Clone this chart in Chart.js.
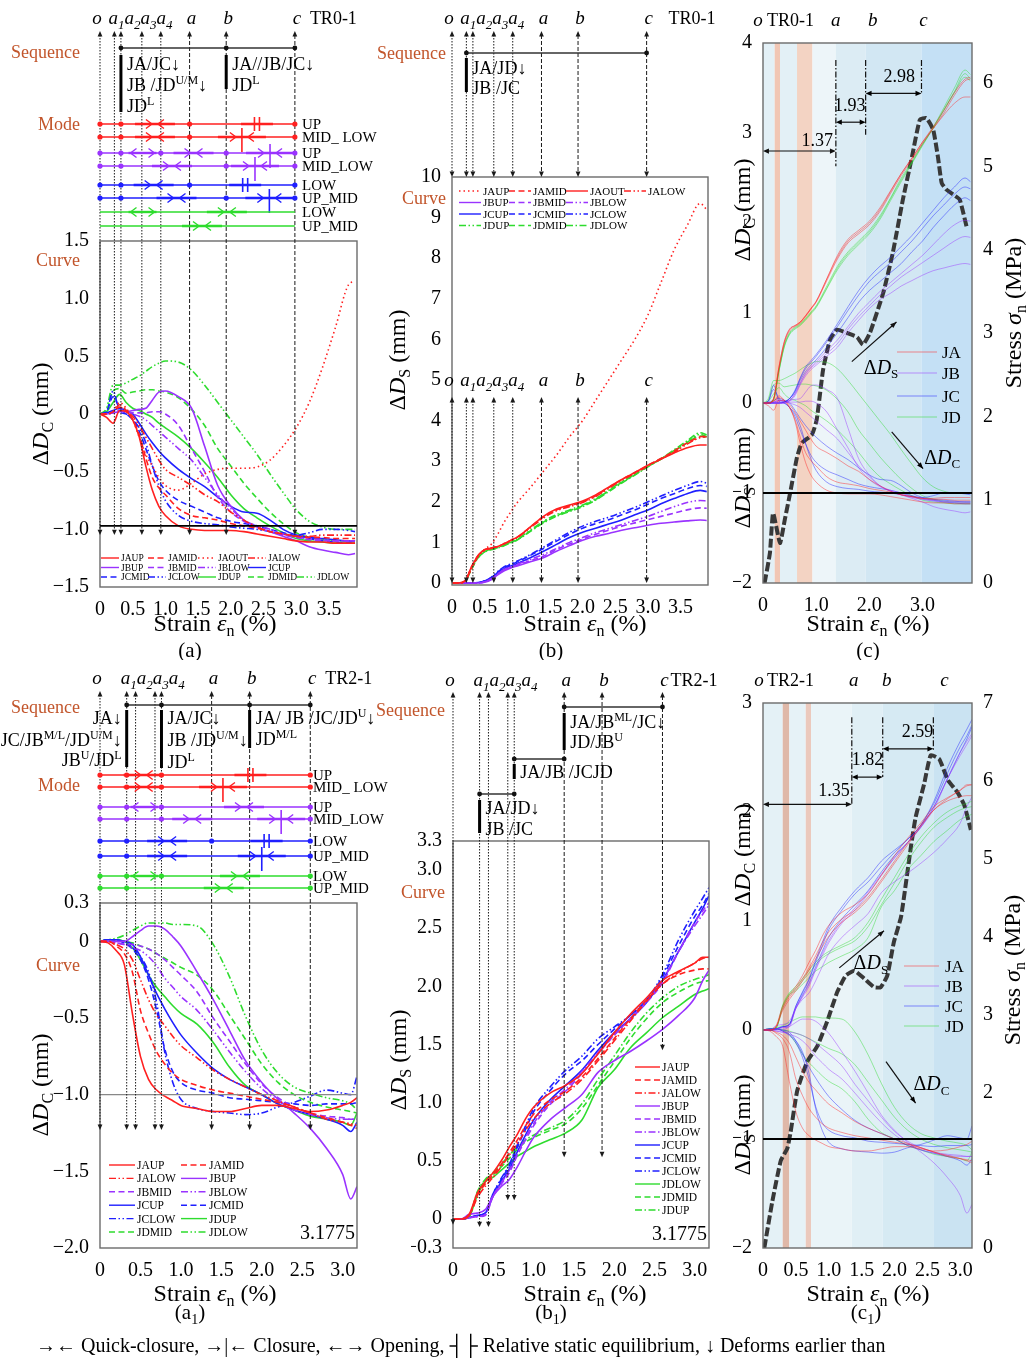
<!DOCTYPE html>
<html>
<head>
<meta charset="utf-8">
<title>TR0-1 / TR2-1 joint deformation</title>
<script src="https://cdn.jsdelivr.net/npm/chart.js@4.4.1/dist/chart.umd.min.js"></script>
<style>
  body { margin: 0; background: #fff; }
  #page { position: relative; width: 1032px; height: 1360px; overflow: hidden; background: #fff; }
  #page canvas { position: absolute; }
  #foot { position: absolute; left: 36px; top: 1333px; font: 20px 'Liberation Serif', serif; line-height: 24px; white-space: nowrap; color: #000; }
</style>
</head>
<body>
<div id="page">
  <canvas id="pa" width="400" height="660" style="left:0;top:0"></canvas>
  <canvas id="pb" width="360" height="660" style="left:370px;top:0"></canvas>
  <canvas id="pc" width="302" height="660" style="left:730px;top:0"></canvas>
  <canvas id="pa1" width="400" height="680" style="left:0;top:660px"></canvas>
  <canvas id="pb1" width="360" height="680" style="left:370px;top:660px"></canvas>
  <canvas id="pc1" width="302" height="680" style="left:730px;top:660px"></canvas>
  <div id="foot">→← Quick-closure, →|← Closure, ←→ Opening, ┤├ Relative static equilibrium, ↓ Deforms earlier than</div>
</div>
<script>
const SERIF = "'Liberation Serif','Times New Roman',serif";
Chart.defaults.font.family = SERIF;
const RED = '#ff2020', PUR = '#9a33ff', BLU = '#1f1fff', GRN = '#2edc2e', ORG = '#c2552b';
const DASH = {s: [], m: [6, 3.5], o: [1.5, 3], dd: [7, 2.5, 1.5, 2.5, 1.5, 2.5], dt: [7, 2.5, 1.5, 2.5]};

// ---------- TR0-1 : strain grid and joint curves ----------
const xs0 = [0, 0.1, 0.2, 0.3, 0.4, 0.5, 0.6, 0.7, 0.8, 0.9, 1.0, 1.2, 1.4, 1.6, 1.8, 2.0, 2.2, 2.4, 2.6, 2.8, 3.0, 3.2, 3.4, 3.6, 3.8, 3.9];
// closure deformation dDc (mm)
const dc0_JAUP  = [0, -0.03, -0.08, 0.03, 0.02, -0.05, -0.2, -0.45, -0.66, -0.8, -0.88, -0.97, -1.0, -1.01, -1.01, -1.01, -1.02, -1.04, -1.06, -1.08, -1.1, -1.11, -1.11, -1.12, -1.12, -1.12];
const dc0_JAMID = [0, 0, 0.02, 0.08, 0.03, -0.05, -0.18, -0.38, -0.55, -0.64, -0.7, -0.82, -0.88, -0.9, -0.92, -0.95, -0.97, -0.99, -1.02, -1.04, -1.06, -1.07, -1.07, -1.08, -1.08, -1.08];
const dc0_JAOUT = [0, 0, 0.02, 0.1, 0.05, -0.05, -0.2, -0.35, -0.45, -0.55, -0.62, -0.66, -0.6, -0.52, -0.48, -0.47, -0.47, -0.46, -0.4, -0.28, -0.12, 0.1, 0.4, 0.75, 1.12, 1.15];
const dc0_JALOW = [0, 0, 0.02, 0.06, 0.03, -0.02, -0.1, -0.2, -0.3, -0.4, -0.48, -0.55, -0.62, -0.7, -0.76, -0.85, -0.92, -0.98, -1.02, -1.04, -1.06, -1.06, -1.05, -1.05, -1.05, -1.05];
const dc0_JBUP  = [0, 0, 0.01, 0.02, 0.02, 0.03, 0.04, 0.05, 0.12, 0.19, 0.2, 0.15, 0.05, -0.28, -0.62, -0.8, -0.92, -0.98, -1.02, -1.06, -1.1, -1.15, -1.18, -1.2, -1.22, -1.21];
const dc0_JBMID = [0, 0, 0.01, 0.03, 0.02, 0.01, 0.01, 0.01, 0.02, 0.02, 0.0, -0.1, -0.3, -0.5, -0.72, -0.85, -0.93, -0.98, -1.02, -1.05, -1.07, -1.09, -1.1, -1.1, -1.1, -1.1];
const dc0_JBLOW = [0, 0, 0.01, 0.03, 0.02, 0, -0.02, -0.05, -0.1, -0.15, -0.2, -0.3, -0.4, -0.55, -0.7, -0.82, -0.92, -0.97, -1.0, -1.04, -1.07, -1.08, -1.09, -1.1, -1.1, -1.1];
const dc0_JCUP  = [0, 0.01, 0.03, 0.05, 0.03, 0, -0.08, -0.17, -0.25, -0.32, -0.38, -0.48, -0.56, -0.63, -0.72, -0.8, -0.85, -0.86, -0.92, -1.0, -1.05, -1.07, -1.08, -1.09, -1.1, -1.1];
const dc0_JCMID = [0, 0.02, 0.15, 0.05, 0.0, -0.05, -0.15, -0.3, -0.45, -0.58, -0.66, -0.75, -0.8, -0.85, -0.9, -0.93, -0.95, -0.97, -1.0, -1.03, -1.06, -1.08, -1.1, -1.11, -1.12, -1.12];
const dc0_JCLOW = [0, 0.02, 0.2, 0.02, 0.0, -0.05, -0.12, -0.25, -0.45, -0.62, -0.75, -0.88, -0.93, -0.95, -0.96, -0.98, -0.99, -1.0, -1.02, -1.04, -1.05, -1.03, -1.0, -1.0, -1.01, -1.02];
const dc0_JDUP  = [0, 0.02, 0.1, 0.17, 0.1, 0.05, 0.03, 0.0, -0.03, -0.08, -0.12, -0.2, -0.3, -0.42, -0.55, -0.7, -0.82, -0.9, -0.97, -1.03, -1.08, -1.1, -1.11, -1.12, -1.12, -1.12];
const dc0_JDMID = [0, 0.03, 0.2, 0.22, 0.18, 0.19, 0.2, 0.21, 0.21, 0.2, 0.19, 0.14, 0.04, -0.1, -0.3, -0.45, -0.6, -0.73, -0.85, -0.95, -1.03, -1.07, -1.09, -1.1, -1.1, -1.1];
const dc0_JDLOW = [0, 0.05, 0.25, 0.25, 0.27, 0.3, 0.33, 0.37, 0.41, 0.44, 0.46, 0.45, 0.38, 0.25, 0.1, -0.05, -0.2, -0.35, -0.52, -0.68, -0.83, -0.93, -0.98, -1.0, -1.0, -1.0];
// shear deformation dDs (mm)
const ds0_JAUP  = [0, 0, 0.05, 0.35, 0.65, 0.83, 0.95, 1.2, 1.5, 1.75, 1.98, 2.35, 2.75, 3.15, 3.6, 4.0, 4.5, 5.0, 5.5, 6.0, 6.6, 7.4, 8.2, 8.8, 9.35, 9.2];
const ds0_JAMID = [0, 0, 0.05, 0.4, 0.68, 0.82, 0.86, 0.9, 0.97, 1.05, 1.13, 1.38, 1.62, 1.8, 1.9, 2.0, 2.15, 2.35, 2.55, 2.72, 2.9, 3.07, 3.25, 3.45, 3.6, 3.62];
const ds0_JAOUT = [0, 0, 0.05, 0.4, 0.68, 0.82, 0.86, 0.9, 0.97, 1.05, 1.13, 1.38, 1.64, 1.82, 1.92, 2.02, 2.17, 2.36, 2.55, 2.72, 2.9, 3.05, 3.2, 3.33, 3.4, 3.4];
const ds0_JALOW = [0, 0, 0.05, 0.38, 0.66, 0.8, 0.85, 0.89, 0.96, 1.04, 1.12, 1.36, 1.6, 1.78, 1.88, 1.98, 2.13, 2.33, 2.53, 2.7, 2.88, 3.05, 3.22, 3.42, 3.58, 3.6];
const ds0_JBUP  = [0, 0, 0, 0, 0, 0.02, 0.08, 0.2, 0.3, 0.37, 0.42, 0.52, 0.62, 0.78, 0.92, 1.05, 1.15, 1.22, 1.3, 1.36, 1.42, 1.47, 1.5, 1.53, 1.55, 1.54];
const ds0_JBMID = [0, 0, 0, 0, 0, 0.03, 0.1, 0.22, 0.32, 0.39, 0.44, 0.55, 0.66, 0.82, 0.96, 1.08, 1.2, 1.3, 1.4, 1.48, 1.56, 1.64, 1.72, 1.8, 1.85, 1.84];
const ds0_JBLOW = [0, 0, 0, 0, 0, 0.03, 0.1, 0.22, 0.33, 0.4, 0.46, 0.58, 0.7, 0.85, 1.0, 1.12, 1.24, 1.34, 1.44, 1.54, 1.64, 1.76, 1.88, 1.98, 2.03, 2.02];
const ds0_JCUP  = [0, 0, 0, 0, 0.01, 0.05, 0.12, 0.25, 0.35, 0.42, 0.48, 0.62, 0.78, 0.95, 1.12, 1.25, 1.35, 1.45, 1.55, 1.68, 1.8, 1.95, 2.08, 2.2, 2.28, 2.25];
const ds0_JCMID = [0, 0, 0, 0, 0.01, 0.05, 0.13, 0.27, 0.38, 0.45, 0.52, 0.68, 0.85, 1.03, 1.2, 1.35, 1.46, 1.56, 1.68, 1.8, 1.94, 2.08, 2.2, 2.32, 2.4, 2.38];
const ds0_JCLOW = [0, 0, 0, 0, 0.01, 0.05, 0.14, 0.28, 0.4, 0.47, 0.54, 0.7, 0.88, 1.07, 1.25, 1.4, 1.52, 1.62, 1.74, 1.86, 2.0, 2.14, 2.28, 2.4, 2.5, 2.46];
const ds0_JDUP  = [0, 0, 0.04, 0.36, 0.64, 0.78, 0.84, 0.88, 0.94, 1.01, 1.08, 1.3, 1.52, 1.68, 1.8, 1.92, 2.08, 2.28, 2.5, 2.68, 2.88, 3.06, 3.26, 3.46, 3.66, 3.6];
const ds0_JDMID = [0, 0, 0.04, 0.36, 0.63, 0.77, 0.83, 0.87, 0.93, 1.0, 1.07, 1.28, 1.5, 1.66, 1.78, 1.9, 2.06, 2.27, 2.48, 2.67, 2.87, 3.05, 3.25, 3.45, 3.62, 3.58];
const ds0_JDLOW = [0, 0, 0.04, 0.35, 0.62, 0.76, 0.82, 0.86, 0.92, 0.99, 1.06, 1.27, 1.48, 1.64, 1.76, 1.88, 2.04, 2.25, 2.46, 2.66, 2.86, 3.06, 3.28, 3.5, 3.7, 3.65];
// normal stress (MPa)
const st0_x = [0.03, 0.13, 0.19, 0.32, 0.41, 0.51, 0.64, 0.73, 0.92, 1.01, 1.13, 1.26, 1.39, 1.58, 1.77, 1.88, 2.01, 2.26, 2.44, 2.63, 2.8, 2.95, 3.07, 3.2, 3.29, 3.36, 3.45, 3.6, 3.7, 3.83];
const st0_y = [0.0, 0.36, 0.84, 0.48, 0.76, 1.08, 1.51, 1.68, 1.78, 1.96, 2.56, 2.92, 3.04, 3.0, 2.95, 2.86, 3.0, 3.48, 3.96, 4.6, 5.11, 5.56, 5.58, 5.44, 5.11, 4.8, 4.72, 4.65, 4.6, 4.27];

// ---------- TR2-1 ----------
const xs2 = [0, 0.1, 0.2, 0.3, 0.4, 0.5, 0.6, 0.7, 0.8, 0.9, 1.0, 1.2, 1.4, 1.6, 1.8, 2.0, 2.2, 2.4, 2.6, 2.8, 3.0, 3.1, 3.1775];
const dc2_JAUP  = [0, -0.01, -0.06, -0.15, -0.47, -0.75, -0.9, -0.97, -1.01, -1.04, -1.07, -1.09, -1.11, -1.11, -1.09, -1.07, -1.07, -1.09, -1.11, -1.1, -1.07, -1.05, -1.02];
const dc2_JAMID = [0, 0, -0.03, -0.08, -0.2, -0.45, -0.6, -0.72, -0.8, -0.86, -0.9, -0.94, -0.97, -0.99, -1.01, -1.03, -1.05, -1.08, -1.12, -1.15, -1.18, -1.2, -1.22];
const dc2_JALOW = [0, 0, -0.02, -0.05, -0.12, -0.25, -0.38, -0.48, -0.55, -0.62, -0.68, -0.76, -0.84, -0.9, -0.95, -1.0, -1.04, -1.08, -1.12, -1.16, -1.18, -1.19, -1.2];
const dc2_JBUP  = [0, 0, 0, 0, 0.03, 0.07, 0.1, 0.1, 0.08, 0.03, -0.03, -0.2, -0.38, -0.58, -0.78, -0.92, -1.03, -1.12, -1.22, -1.35, -1.52, -1.68, -1.6];
const dc2_JBMID = [0, 0, -0.01, -0.02, -0.02, -0.03, -0.05, -0.08, -0.12, -0.17, -0.22, -0.33, -0.5, -0.65, -0.8, -0.93, -1.02, -1.08, -1.12, -1.14, -1.15, -1.16, -1.16];
const dc2_JBLOW = [0, 0, -0.01, -0.02, -0.04, -0.06, -0.1, -0.16, -0.24, -0.3, -0.36, -0.45, -0.58, -0.72, -0.85, -0.96, -1.04, -1.1, -1.13, -1.15, -1.16, -1.16, -1.16];
const dc2_JCUP  = [0, 0.01, 0.01, 0, -0.02, -0.1, -0.22, -0.34, -0.44, -0.53, -0.61, -0.73, -0.83, -0.9, -0.95, -1.0, -1.06, -1.1, -1.13, -1.16, -1.2, -1.24, -1.18];
const dc2_JCMID = [0, 0.01, 0.01, -0.01, -0.05, -0.12, -0.25, -0.45, -0.7, -0.85, -0.92, -0.97, -0.99, -1.02, -1.03, -1.04, -1.05, -1.06, -1.07, -1.06, -1.06, -1.06, -1.05];
const dc2_JCLOW = [0, 0.01, 0.01, -0.01, -0.04, -0.1, -0.2, -0.4, -0.72, -0.92, -1.03, -1.09, -1.11, -1.12, -1.13, -1.12, -1.08, -1.05, -1.01, -0.97, -0.99, -1.0, -0.88];
const dc2_JDUP  = [0, 0.01, 0.01, 0, -0.04, -0.12, -0.22, -0.3, -0.36, -0.42, -0.47, -0.54, -0.66, -0.82, -0.94, -1.0, -1.06, -1.1, -1.14, -1.16, -1.18, -1.2, -1.12];
const dc2_JDMID = [0, 0.01, 0.01, 0, -0.01, -0.03, -0.05, -0.08, -0.11, -0.14, -0.17, -0.22, -0.32, -0.48, -0.64, -0.8, -0.92, -1.0, -1.05, -1.08, -1.1, -1.11, -1.12];
const dc2_JDLOW = [0, 0.01, 0.02, 0.04, 0.07, 0.1, 0.12, 0.12, 0.12, 0.11, 0.11, 0.1, -0.02, -0.23, -0.49, -0.71, -0.86, -0.95, -0.99, -1.02, -1.04, -1.06, -1.1];
const ds2_JAUP  = [0, 0, 0.04, 0.22, 0.32, 0.4, 0.5, 0.62, 0.73, 0.86, 0.96, 1.08, 1.15, 1.25, 1.42, 1.6, 1.76, 1.9, 2.05, 2.13, 2.2, 2.25, 2.25];
const ds2_JAMID = [0, 0, 0.03, 0.2, 0.3, 0.38, 0.47, 0.57, 0.68, 0.8, 0.9, 1.02, 1.1, 1.22, 1.38, 1.55, 1.72, 1.88, 2.02, 2.1, 2.14, 2.15, 2.15];
const ds2_JALOW = [0, 0, 0.03, 0.18, 0.28, 0.36, 0.45, 0.55, 0.65, 0.76, 0.86, 0.99, 1.08, 1.2, 1.36, 1.53, 1.7, 1.87, 2.02, 2.12, 2.2, 2.24, 2.25];
const ds2_JBUP  = [0, 0, 0.04, 0.05, 0.08, 0.2, 0.28, 0.34, 0.45, 0.58, 0.7, 0.85, 0.96, 1.07, 1.26, 1.36, 1.44, 1.53, 1.63, 1.75, 1.9, 2.05, 2.14];
const ds2_JBMID = [0, 0, 0.01, 0.02, 0.03, 0.2, 0.3, 0.4, 0.55, 0.68, 0.8, 0.98, 1.1, 1.25, 1.42, 1.58, 1.72, 1.86, 2.03, 2.3, 2.55, 2.65, 2.72];
const ds2_JBLOW = [0, 0, 0.01, 0.02, 0.04, 0.2, 0.31, 0.42, 0.56, 0.7, 0.82, 1.0, 1.12, 1.27, 1.43, 1.58, 1.72, 1.87, 2.05, 2.3, 2.52, 2.62, 2.7];
const ds2_JCUP  = [0, 0, 0.01, 0.03, 0.05, 0.2, 0.32, 0.43, 0.58, 0.72, 0.85, 1.02, 1.15, 1.28, 1.45, 1.6, 1.72, 1.86, 2.05, 2.3, 2.55, 2.67, 2.78];
const ds2_JCMID = [0, 0, 0.01, 0.03, 0.05, 0.22, 0.34, 0.46, 0.62, 0.77, 0.92, 1.1, 1.25, 1.36, 1.5, 1.63, 1.75, 1.88, 2.08, 2.35, 2.6, 2.7, 2.8];
const ds2_JCLOW = [0, 0, 0.01, 0.03, 0.05, 0.22, 0.35, 0.47, 0.64, 0.8, 0.95, 1.13, 1.28, 1.4, 1.55, 1.65, 1.75, 1.88, 2.1, 2.4, 2.65, 2.76, 2.85];
const ds2_JDLOW = [0, 0, 0.02, 0.2, 0.32, 0.36, 0.42, 0.48, 0.54, 0.58, 0.62, 0.68, 0.74, 0.85, 1.13, 1.28, 1.47, 1.6, 1.73, 1.83, 1.93, 1.96, 1.98];
const ds2_JDMID = [0, 0, 0.02, 0.22, 0.33, 0.38, 0.45, 0.52, 0.6, 0.66, 0.7, 0.76, 0.82, 0.95, 1.15, 1.35, 1.55, 1.72, 1.86, 1.95, 2.02, 2.04, 2.05];
const ds2_JDUP  = [0, 0, 0.02, 0.23, 0.34, 0.4, 0.47, 0.55, 0.62, 0.68, 0.72, 0.78, 0.85, 0.99, 1.2, 1.4, 1.6, 1.77, 1.9, 2.0, 2.06, 2.08, 2.1];
const st2_x = [0.02, 0.14, 0.27, 0.37, 0.42, 0.52, 0.67, 0.83, 0.98, 1.13, 1.26, 1.39, 1.54, 1.69, 1.79, 1.89, 1.99, 2.1, 2.25, 2.32, 2.45, 2.55, 2.68, 2.81, 2.96, 3.06, 3.16];
const st2_y = [0.0, 0.59, 1.12, 1.28, 1.49, 2.02, 2.39, 2.6, 2.92, 3.29, 3.5, 3.56, 3.46, 3.35, 3.35, 3.5, 3.93, 4.26, 5.16, 5.53, 5.96, 6.33, 6.28, 6.01, 5.85, 5.69, 5.37];

// stage markers o, a1..a4, a, b, c (strain %)
const MK0 = [0, 0.22, 0.32, 0.64, 0.93, 1.37, 1.93, 2.98];
const MK2 = [0, 0.33, 0.44, 0.68, 0.76, 1.38, 1.85, 2.6];
const MKN = ['o', 'a_{1}', 'a_{2}', 'a_{3}', 'a_{4}', 'a', 'b', 'c'];
const ALL8 = [0, 1, 2, 3, 4, 5, 6, 7];
const abc0 = [1.37, 1.93, 2.98];
const abc2 = [1.35, 1.82, 2.59];

// ticks
const tx0 = [0, 0.5, 1, 1.5, 2, 2.5, 3, 3.5], tx0L = ['0', '0.5', '1.0', '1.5', '2.0', '2.5', '3.0', '3.5'];
const tx2 = [0, 0.5, 1, 1.5, 2, 2.5, 3], tx2L = ['0', '0.5', '1.0', '1.5', '2.0', '2.5', '3.0'];
const txC = [0, 1, 2, 3], txCL = ['0', '1.0', '2.0', '3.0'];
const tyA = [1.5, 1, 0.5, 0, -0.5, -1, -1.5], tyAL = ['1.5', '1.0', '0.5', '0', '−0.5', '−1.0', '−1.5'];
const tyB = [0, 1, 2, 3, 4, 5, 6, 7, 8, 9, 10], tyBL = tyB.map(String);
const tyC = [4, 3, 2, 1, 0, -1, -2], tyCL = ['4', '3', '2', '1', '0', '−1', '−2'];
const tyCR = [0, 1, 2, 3, 4, 5, 6], tyCRL = tyCR.map(String);
const tyA1 = [0.25, 0, -0.5, -1, -1.5, -2], tyA1L = ['0.3', '0', '−0.5', '−1.0', '−1.5', '−2.0'];
const tyB1 = [3.25, 3, 2.5, 2, 1.5, 1, 0.5, 0, -0.25], tyB1L = ['3.3', '3.0', '2.5', '2.0', '1.5', '1.0', '0.5', '0', '−0.3'];
const tyC1 = [3, 2, 1, 0, -1, -2], tyC1L = ['3', '2', '1', '0', '−1', '−2'];
const tyC1R = [0, 1, 2, 3, 4, 5, 6, 7], tyC1RL = tyC1R.map(String);

// series lists: name, colour, dash, values
const serDc0 = [
  ['JAUP', RED, 's', dc0_JAUP], ['JAMID', RED, 'm', dc0_JAMID], ['JAOUT', RED, 'o', dc0_JAOUT], ['JALOW', RED, 'dd', dc0_JALOW],
  ['JBUP', PUR, 's', dc0_JBUP], ['JBMID', PUR, 'm', dc0_JBMID], ['JBLOW', PUR, 'dd', dc0_JBLOW],
  ['JCUP', BLU, 's', dc0_JCUP], ['JCMID', BLU, 'm', dc0_JCMID], ['JCLOW', BLU, 'dd', dc0_JCLOW],
  ['JDUP', GRN, 's', dc0_JDUP], ['JDMID', GRN, 'm', dc0_JDMID], ['JDLOW', GRN, 'dd', dc0_JDLOW]];
const serDs0 = [
  ['JAUP', RED, 'o', ds0_JAUP], ['JAMID', RED, 'm', ds0_JAMID], ['JAOUT', RED, 's', ds0_JAOUT], ['JALOW', RED, 'dd', ds0_JALOW],
  ['JBUP', PUR, 's', ds0_JBUP], ['JBMID', PUR, 'm', ds0_JBMID], ['JBLOW', PUR, 'dd', ds0_JBLOW],
  ['JCUP', BLU, 's', ds0_JCUP], ['JCMID', BLU, 'm', ds0_JCMID], ['JCLOW', BLU, 'dd', ds0_JCLOW],
  ['JDUP', GRN, 'dd', ds0_JDUP], ['JDMID', GRN, 'm', ds0_JDMID], ['JDLOW', GRN, 'dt', ds0_JDLOW]];
const serDc2 = [
  ['JAUP', RED, 's', dc2_JAUP], ['JAMID', RED, 'm', dc2_JAMID], ['JALOW', RED, 'dd', dc2_JALOW],
  ['JBUP', PUR, 's', dc2_JBUP], ['JBMID', PUR, 'm', dc2_JBMID], ['JBLOW', PUR, 'dd', dc2_JBLOW],
  ['JCUP', BLU, 's', dc2_JCUP], ['JCMID', BLU, 'm', dc2_JCMID], ['JCLOW', BLU, 'dd', dc2_JCLOW],
  ['JDUP', GRN, 's', dc2_JDUP], ['JDMID', GRN, 'm', dc2_JDMID], ['JDLOW', GRN, 'dd', dc2_JDLOW]];
const serDs2 = [
  ['JAUP', RED, 's', ds2_JAUP], ['JAMID', RED, 'm', ds2_JAMID], ['JALOW', RED, 'dt', ds2_JALOW],
  ['JBUP', PUR, 's', ds2_JBUP], ['JBMID', PUR, 'm', ds2_JBMID], ['JBLOW', PUR, 'dt', ds2_JBLOW],
  ['JCUP', BLU, 's', ds2_JCUP], ['JCMID', BLU, 'm', ds2_JCMID], ['JCLOW', BLU, 'dd', ds2_JCLOW],
  ['JDLOW', GRN, 's', ds2_JDLOW], ['JDMID', GRN, 'm', ds2_JDMID], ['JDUP', GRN, 'dt', ds2_JDUP]];

// deformation modes: label, colour, dots at markers, symbols [type, strain]
const modeRows0 = [
  {l: 'UP', c: RED, d: [0, 2, 5, 7], s: [['qc', 0.84], ['eq', 2.4]]},
  {l: 'MID_ LOW', c: RED, d: [0, 2, 5, 7], s: [['qc', 0.84], ['cl', 2.17]]},
  {l: 'UP', c: PUR, d: [0, 2, 4, 6, 7], s: [['op', 0.65], ['qc', 1.43], ['cl', 2.6]]},
  {l: 'MID_LOW', c: PUR, d: [0, 2, 6, 7], s: [['qc', 1.1], ['cl', 2.37]]},
  {l: 'LOW', c: BLU, d: [0, 2, 5, 7], s: [['qc', 0.82], ['eq', 2.22]]},
  {l: 'UP_MID', c: BLU, d: [0, 2, 6, 7], s: [['qc', 1.17], ['cl', 2.59]]},
  {l: 'LOW', c: GRN, d: [], s: [['op', 0.65], ['qc', 1.94]]},
  {l: 'UP_MID', c: GRN, d: [], s: [['qc', 1.56]]}];
const modeRows2 = [
  {l: 'UP', c: RED, d: [0, 1, 4, 7], s: [['qc', 0.54], ['eq', 1.86]]},
  {l: 'MID_ LOW', c: RED, d: [0, 1, 4, 7], s: [['qc', 0.54], ['cl', 1.52]]},
  {l: 'UP', c: PUR, d: [0, 1, 4, 7], s: [['op', 0.55], ['qc', 1.78]]},
  {l: 'MID_LOW', c: PUR, d: [0, 1, 4, 7], s: [['qc', 1.14], ['cl', 2.24]]},
  {l: 'LOW', c: BLU, d: [0, 1, 5, 7], s: [['qc', 0.83], ['eq', 2.06]]},
  {l: 'UP_MID', c: BLU, d: [0, 1, 7], s: [['qc', 0.83], ['cl', 2.0]]},
  {l: 'LOW', c: GRN, d: [0, 1, 4, 7], s: [['op', 0.55], ['qc', 1.73]]},
  {l: 'UP_MID', c: GRN, d: [0, 1, 7], s: [['qc', 1.53]]}];

// ---------- helpers ----------
function fade(hex, a) { const n = parseInt(hex.slice(1), 16); return `rgba(${n >> 16},${(n >> 8) & 255},${n & 255},${a})`; }
function line(ctx, x1, y1, x2, y2) { ctx.beginPath(); ctx.moveTo(x1, y1); ctx.lineTo(x2, y2); ctx.stroke(); }
function dot(ctx, x, y, r) { ctx.beginPath(); ctx.arc(x, y, r, 0, Math.PI * 2); ctx.fill(); }
function head(ctx, x, y, dir, s) {
  const [dx, dy] = {up: [0, -1], down: [0, 1], left: [-1, 0], right: [1, 0]}[dir];
  const bx = x - dx * s * 1.7, by = y - dy * s * 1.7;
  ctx.beginPath(); ctx.moveTo(x, y);
  ctx.lineTo(bx - dy * s * 0.75, by + dx * s * 0.75);
  ctx.lineTo(bx + dy * s * 0.75, by - dx * s * 0.75);
  ctx.closePath(); ctx.fill();
}
function arrowTo(ctx, x1, y1, x2, y2, s) {
  line(ctx, x1, y1, x2, y2);
  const g = Math.atan2(y2 - y1, x2 - x1), c = Math.cos(g), n = Math.sin(g);
  ctx.beginPath(); ctx.moveTo(x2, y2);
  ctx.lineTo(x2 - s * 1.8 * c + s * 0.7 * n, y2 - s * 1.8 * n - s * 0.7 * c);
  ctx.lineTo(x2 - s * 1.8 * c - s * 0.7 * n, y2 - s * 1.8 * n + s * 0.7 * c);
  ctx.closePath(); ctx.fill();
}
function chev(ctx, x, y, dir) {
  const s = dir === 'right' ? 1 : -1;
  ctx.beginPath(); ctx.moveTo(x - s * 6, y - 4.5); ctx.lineTo(x, y); ctx.lineTo(x - s * 6, y + 4.5); ctx.stroke();
}
// text with ^{sup}, _{sub}, ~{italic}
function rich(ctx, str, x, y, size, opt = {}) {
  const align = opt.align || 'left', it = opt.italic ? 'italic ' : '';
  const segs = str.split(/(\^\{[^}]*\}|_\{[^}]*\}|~\{[^}]*\})/).filter(Boolean)
    .map(p => /^[\^_~]\{/.test(p) ? {t: p.slice(2, -1), k: p[0]} : {t: p, k: ''});
  const fontOf = k => (k === '~' ? 'italic ' : it) + (k === '^' || k === '_' ? Math.round(size * 0.66) : size) + 'px ' + SERIF;
  let w = 0;
  segs.forEach(s => { ctx.font = fontOf(s.k); s.w = ctx.measureText(s.t).width; w += s.w; });
  let cx = align === 'center' ? x - w / 2 : align === 'right' ? x - w : x;
  const base = y + size * 0.34;
  ctx.fillStyle = opt.color || '#000'; ctx.textBaseline = 'alphabetic'; ctx.textAlign = 'left';
  segs.forEach(s => {
    ctx.font = fontOf(s.k);
    const dy = s.k === '^' ? -size * 0.4 : s.k === '_' ? size * 0.22 : 0;
    ctx.fillText(s.t, cx, base + dy); cx += s.w;
  });
  return w;
}
function vtext(ctx, str, x, y, size) { ctx.save(); ctx.translate(x, y); ctx.rotate(-Math.PI / 2); rich(ctx, str, 0, 0, size, {align: 'center'}); ctx.restore(); }
function hline(ctx, a, y, col, w) { ctx.save(); ctx.strokeStyle = col; ctx.lineWidth = w; ctx.setLineDash([]); line(ctx, a.left, y, a.right, y); ctx.restore(); }
function orange(ctx, items, rx) { items.forEach(([t, y]) => rich(ctx, t, rx, y, 18, {align: 'right', color: ORG})); }

function vlines(ctx, X, mk, yTop, yBots, up, down) {
  ctx.save(); ctx.strokeStyle = '#1a1a1a'; ctx.fillStyle = '#1a1a1a'; ctx.lineWidth = 1;
  mk.forEach((m, i) => {
    const x = X(m), yb = yBots[i];
    ctx.setLineDash(i >= 5 ? [4, 2] : [1.5, 1.5]);
    line(ctx, x, yTop + (up ? 4 : 0), x, yb - (down ? 4 : 0));
    ctx.setLineDash([]);
    if (up) head(ctx, x, yTop, 'up', 3.2);
    if (down) head(ctx, x, yb, 'down', 3.2);
  });
  ctx.restore();
}
function markLabels(ctx, X, mk, y, idx, tr, trX) {
  let prev = -1e9;
  idx.forEach(i => {
    let x = X(mk[i]) + (i === 0 ? -3 : 2);
    x = Math.max(x, prev + 16); prev = x;
    rich(ctx, MKN[i], x, y, 19, {align: 'center', italic: true});
  });
  if (tr) rich(ctx, tr, trX, y, 18);
}
function seqDraw(ctx, X, mk, s) {
  ctx.save(); ctx.setLineDash([]);
  s.lines.forEach(L => {
    ctx.strokeStyle = '#333'; ctx.fillStyle = '#111'; ctx.lineWidth = 1.3;
    line(ctx, X(mk[L.f]), L.y, X(mk[L.t]), L.y);
    L.dots.forEach(k => dot(ctx, X(mk[k]), L.y, 2.4));
  });
  s.blocks.forEach(B => {
    const x = X(mk[B.m]);
    ctx.strokeStyle = '#000'; ctx.lineWidth = 3; line(ctx, x, B.bar[0], x, B.bar[1]);
    B.t.forEach((t, i) => rich(ctx, t, B.left ? x - 5 : x + 6, B.ys[i], 18, {align: B.left ? 'right' : 'left'}));
  });
  ctx.restore();
}
function modes(ctx, X, mk, rows, ys, lx) {
  ctx.save(); ctx.setLineDash([]);
  rows.forEach((r, i) => {
    const y = ys[i];
    ctx.strokeStyle = r.c; ctx.fillStyle = r.c; ctx.lineWidth = 1.3;
    line(ctx, X(mk[0]), y, X(mk[7]), y);
    r.d.forEach(k => dot(ctx, X(mk[k]), y, 2.6));
    r.s.forEach(([t, v]) => {
      const x = X(v);
      ctx.lineWidth = 2.4;
      if (t === 'qc') { line(ctx, x - 20, y, x + 20, y); ctx.lineWidth = 1.4; chev(ctx, x - 3, y, 'right'); chev(ctx, x + 3, y, 'left'); }
      else if (t === 'op') { line(ctx, x - 14, y, x + 14, y); ctx.lineWidth = 1.4; chev(ctx, x - 12, y, 'left'); chev(ctx, x + 12, y, 'right'); }
      else if (t === 'cl') { line(ctx, x - 24, y, x + 24, y); ctx.lineWidth = 1.6; line(ctx, x, y - 9, x, y + 15); ctx.lineWidth = 1.4; chev(ctx, x - 6, y, 'right'); chev(ctx, x + 6, y, 'left'); }
      else if (t === 'eq') { line(ctx, x - 16, y, x + 16, y); ctx.lineWidth = 1.6; line(ctx, x - 2.5, y - 7, x - 2.5, y + 7); line(ctx, x + 2.5, y - 7, x + 2.5, y + 7); }
    });
    rich(ctx, r.l, lx, y, 15);
  });
  ctx.restore();
}
function legendDraw(ctx, ser, pos, size, len) {
  ctx.save();
  ser.forEach((s, i) => {
    const [tx, ty] = pos[i];
    ctx.strokeStyle = s[1]; ctx.lineWidth = 1.4; ctx.setLineDash(DASH[s[2]]);
    line(ctx, tx - len - 2, ty, tx - 2, ty); ctx.setLineDash([]);
    rich(ctx, s[0], tx, ty, size);
  });
  ctx.restore();
}
function jointLegend(ctx, lx1, lx2, tx, ys) {
  ctx.save();
  [['JA', RED], ['JB', PUR], ['JC', BLU], ['JD', GRN]].forEach(([n, c], i) => {
    ctx.strokeStyle = fade(c, 0.5); ctx.lineWidth = 1.2; line(ctx, lx1, ys[i], lx2, ys[i]);
    rich(ctx, n, tx, ys[i], 17);
  });
  ctx.restore();
}
function bands(ctx, a, X, edges, cols) {
  ctx.save();
  cols.forEach((c, i) => { const x1 = X(edges[i]), x2 = X(edges[i + 1]); ctx.fillStyle = c; ctx.fillRect(x1, a.top, x2 - x1, a.bottom - a.top); });
  ctx.restore();
}
function spans(ctx, X, Y, sp) {
  ctx.save(); ctx.strokeStyle = '#111'; ctx.fillStyle = '#111'; ctx.lineWidth = 1.2;
  sp.v.forEach((v, i) => { ctx.setLineDash([6, 2, 1.5, 2]); line(ctx, X(v), Y(sp.top), X(v), Y(sp.bot[i])); });
  ctx.setLineDash([]);
  sp.arr.forEach(([x0, x1, yv, lab, lx, ly]) => {
    const y = Y(yv);
    line(ctx, X(x0) + 5, y, X(x1) - 5, y); head(ctx, X(x0), y, 'left', 3.5); head(ctx, X(x1), y, 'right', 3.5);
    rich(ctx, lab, X(lx), Y(ly), 18, {align: 'center'});
  });
  ctx.restore();
}
function annArrows(ctx, X, Y, arr) {
  ctx.save(); ctx.strokeStyle = '#111'; ctx.fillStyle = '#111'; ctx.lineWidth = 1.2; ctx.setLineDash([]);
  arr.forEach(([x1, y1, x2, y2, lab, lx, ly]) => { arrowTo(ctx, X(x1), Y(y1), X(x2), Y(y2), 3.5); rich(ctx, lab, X(lx), Y(ly), 20, {align: 'center'}); });
  ctx.restore();
}

function mk(xs, s, o = {}) {
  return {label: s[0], data: xs.map((x, i) => ({x, y: s[3][i]})), borderColor: o.col || s[1], borderWidth: o.w || 1.6,
    borderDash: o.solid ? [] : DASH[s[2]], pointRadius: 0, fill: false, cubicInterpolationMode: 'monotone', yAxisID: 'y'};
}
function stressDs(xs, ys) {
  return {label: 'Stress', data: xs.map((x, i) => ({x, y: ys[i]})), borderColor: '#383838', borderWidth: 4, borderDash: [9, 3],
    pointRadius: 0, fill: false, tension: 0.15, yAxisID: 'y2'};
}
function scale(pos, min, max, vals, labs, size) {
  return {type: 'linear', position: pos, min, max,
    afterBuildTicks: s => { s.ticks = vals.map(v => ({value: v})); },
    afterFit: s => { if (pos === 'bottom') s.height = size; else s.width = size; },
    grid: {display: false}, border: {display: false},
    ticks: {autoSkip: false, maxRotation: 0, minRotation: 0, padding: 3, color: '#000',
      font: {family: SERIF, size: 20}, callback: (v, i) => labs[i]}};
}
function makeChart(id, o) {
  const cv = document.getElementById(id);
  const W = cv.width, H = cv.height, yw = o.yw, xh = 28, rw = o.y2 ? o.rw : 0;
  const scales = {x: scale('bottom', ...o.x, xh), y: scale('left', ...o.y, yw)};
  if (o.y2) scales.y2 = scale('right', ...o.y2, rw);
  const helpers = c => [c.ctx, v => c.scales.x.getPixelForValue(v), v => c.scales.y.getPixelForValue(v), c.chartArea];
  return new Chart(cv, {
    type: 'line', data: {datasets: o.datasets},
    options: {responsive: false, animation: false, devicePixelRatio: 1, events: [],
      layout: {padding: {left: o.area.l - yw, top: o.area.t, right: W - o.area.r - rw, bottom: H - o.area.b - xh}},
      plugins: {legend: {display: false}, tooltip: {enabled: false}}, scales},
    plugins: [{id: 'ann' + id,
      beforeDatasetsDraw: c => { if (o.under) o.under(...helpers(c)); },
      afterDraw: c => {
        const [ctx, X, Y, a] = helpers(c);
        ctx.save(); ctx.strokeStyle = '#6b6b6b'; ctx.lineWidth = 1.4; ctx.setLineDash([]);
        ctx.strokeRect(a.left, a.top, a.right - a.left, a.bottom - a.top); ctx.restore();
        o.over(ctx, X, Y, a);
      }}]
  });
}

// ---------- (a) ----------
const legPosA = serDc0.map((s, i) => i < 8 ? [[121, 168, 218, 268][i % 4], [558, 567.5][Math.floor(i / 4)]] : [[121, 168, 218, 268, 317][i - 8], 577]);
makeChart('pa', {
  area: {l: 100, t: 241, r: 357, b: 587}, yw: 48,
  x: [0, 3.93, tx0, tx0L], y: [-1.5, 1.5, tyA, tyAL],
  datasets: serDc0.map(s => mk(xs0, s)),
  over: (ctx, X, Y, a) => {
    hline(ctx, a, Y(-0.97), '#000', 1.8);
    vlines(ctx, X, MK0, 31, MK0.map(() => Y(-1.05)), true, true);
    markLabels(ctx, X, MK0, 18, ALL8, 'TR0-1', X(MK0[7]) + 15);
    seqDraw(ctx, X, MK0, {lines: [{f: 2, t: 7, y: 48, dots: [2, 6, 7]}],
      blocks: [{m: 2, bar: [55, 112], t: ['JA/JC↓', 'JB /JD^{U/M}↓', 'JD^{L}'], ys: [64, 85, 106]},
               {m: 6, bar: [55, 89], t: ['JA//JB/JC↓', 'JD^{L}'], ys: [64, 85]}]});
    modes(ctx, X, MK0, modeRows0, [124, 137, 153, 166, 185, 198, 212, 226], 302);
    orange(ctx, [['Sequence', 52], ['Mode', 124], ['Curve', 260]], 80);
    legendDraw(ctx, serDc0, legPosA, 9.5, 18);
    vtext(ctx, 'Δ~{D}_{C} (mm)', 40, 414, 24);
    rich(ctx, 'Strain ~{ε}_{n} (%)', 215, 623, 24, {align: 'center'});
    rich(ctx, '(a)', 190, 650, 21, {align: 'center'});
  }
});

// ---------- (b) ----------
const colB = [113, 163, 220, 278], rowB = [191, 202.5, 214, 225.5];
const legPosB = serDs0.map((s, i) => i < 4 ? [colB[i], rowB[0]] : [colB[(i - 4) % 3], rowB[1 + Math.floor((i - 4) / 3)]]);
makeChart('pb', {
  area: {l: 82, t: 177, r: 338, b: 585}, yw: 42,
  x: [0, 3.92, tx0, tx0L], y: [-0.05, 10, tyB, tyBL],
  datasets: serDs0.map(s => mk(xs0, s)),
  over: (ctx, X, Y, a) => {
    vlines(ctx, X, MK0, 31, MK0.map(() => a.top), true, true);
    markLabels(ctx, X, MK0, 18, ALL8, 'TR0-1', X(MK0[7]) + 22);
    seqDraw(ctx, X, MK0, {lines: [{f: 1, t: 7, y: 53, dots: [1, 7]}],
      blocks: [{m: 1, bar: [58, 92], t: ['JA/JD↓', 'JB /JC'], ys: [68, 88]}]});
    vlines(ctx, X, MK0, Y(4.58), MK0.map(() => Y(0)), true, true);
    markLabels(ctx, X, MK0, Y(5.0), ALL8);
    orange(ctx, [['Sequence', 53], ['Curve', 198]], 76);
    legendDraw(ctx, serDs0, legPosB, 11, 22);
    vtext(ctx, 'Δ~{D}_{S} (mm)', 27, 360, 24);
    rich(ctx, 'Strain ~{ε}_{n} (%)', 215, 623, 24, {align: 'center'});
    rich(ctx, '(b)', 181, 650, 21, {align: 'center'});
  }
});

// ---------- (c) ----------
const thin = (xs, ser) => ser.map(s => mk(xs, s, {col: fade(s[1], 0.5), w: 0.9, solid: true}));
makeChart('pc', {
  area: {l: 33, t: 43, r: 242, b: 583}, yw: 30, rw: 36,
  x: [0, 3.93, txC, txCL], y: [-2, 4, tyC, tyCL], y2: [0, 6.48, tyCR, tyCRL],
  datasets: [...thin(xs0, serDs0.filter(s => s[0] !== 'JAUP')), ...thin(xs0, serDc0.filter(s => s[0] !== 'JAOUT')), stressDs(st0_x, st0_y)],
  under: (ctx, X, Y, a) => bands(ctx, a, X, [...MK0, 3.93],
    ['#e3f0f6', '#f1c6b4', '#e3f0f6', '#f3d3c3', '#edf5f9', '#dcecf4', '#d2e7f3', '#c4e0f5']),
  over: (ctx, X, Y, a) => {
    hline(ctx, a, Y(-1), '#000', 1.8);
    spans(ctx, X, Y, {v: abc0, top: 3.81, bot: [2.63, 2.98, 3.43],
      arr: [[0, 1.37, 2.8, '1.37', 1.02, 2.92], [1.37, 1.93, 3.12, '1.93', 1.63, 3.31], [1.93, 2.98, 3.44, '2.98', 2.56, 3.63]]});
    annArrows(ctx, X, Y, [[1.67, 0.46, 2.51, 0.9, 'Δ~{D}_{S}', 2.22, 0.4], [2.42, -0.32, 3.01, -0.73, 'Δ~{D}_{C}', 3.37, -0.6]]);
    jointLegend(ctx, 167, 207, 212, [352, 373, 396, 417]);
    rich(ctx, 'o', X(0) - 5, 20, 19, {align: 'center', italic: true});
    rich(ctx, 'TR0-1', X(0) + 4, 20, 18);
    rich(ctx, 'a', X(abc0[0]), 20, 19, {align: 'center', italic: true});
    rich(ctx, 'b', X(abc0[1]) + 7, 20, 19, {align: 'center', italic: true});
    rich(ctx, 'c', X(abc0[2]) + 2, 20, 19, {align: 'center', italic: true});
    vtext(ctx, 'Δ~{D}_{C} (mm)', 12, 210, 24);
    vtext(ctx, 'Δ~{D}_{S} (mm)', 12, 478, 24);
    vtext(ctx, 'Stress ~{σ}_{n} (MPa)', 283, 313, 24);
    rich(ctx, 'Strain ~{ε}_{n} (%)', 138, 623, 24, {align: 'center'});
    rich(ctx, '(c)', 138, 650, 21, {align: 'center'});
  }
});

// ---------- (a1) ----------
const legPosA1 = serDc2.map((s, i) => [[137, 209][i % 2], 505 + 13.4 * Math.floor(i / 2)]);
makeChart('pa1', {
  area: {l: 100, t: 243, r: 357, b: 588}, yw: 48,
  x: [0, 3.1775, tx2, tx2L], y: [-2, 0.25, tyA1, tyA1L],
  datasets: serDc2.map(s => mk(xs2, s)),
  over: (ctx, X, Y, a) => {
    hline(ctx, a, Y(-1), '#888', 1.2);
    vlines(ctx, X, MK2, 31, MK2.map(() => Y(-1.23)), true, true);
    markLabels(ctx, X, MK2, 18, ALL8, 'TR2-1', X(MK2[7]) + 15);
    seqDraw(ctx, X, MK2, {lines: [{f: 1, t: 7, y: 45, dots: [1, 4, 6, 7]}],
      blocks: [{m: 1, left: true, bar: [50, 107], t: ['JA↓', 'JC/JB^{M/L}/JD^{U/M}↓', 'JB^{U}/JD^{L}'], ys: [58, 80, 100]},
               {m: 4, bar: [50, 108], t: ['JA/JC↓', 'JB /JD^{U/M}↓', 'JD^{L}'], ys: [58, 80, 102]},
               {m: 6, bar: [50, 88], t: ['JA/ JB /JC/JD^{U}↓', 'JD^{M/L}'], ys: [58, 79]}]});
    modes(ctx, X, MK2, modeRows2, [115, 127, 147, 159, 181, 196, 216, 228], 313);
    orange(ctx, [['Sequence', 47], ['Mode', 125], ['Curve', 305]], 80);
    legendDraw(ctx, serDc2, legPosA1, 11.5, 26);
    rich(ctx, '3.1775', 355, 572, 20, {align: 'right'});
    vtext(ctx, 'Δ~{D}_{C} (mm)', 40, 425, 24);
    rich(ctx, 'Strain ~{ε}_{n} (%)', 215, 633, 24, {align: 'center'});
    rich(ctx, '(a_{1})', 190, 652, 21, {align: 'center'});
  }
});

// ---------- (b1) ----------
const b1Ends = [-0.05, -0.07, -0.07, 0.16, 0.16, 0.53, 0.53, 1.45];
const legPosB1 = serDs2.map((s, i) => [292, 407 + 13 * i]);
makeChart('pb1', {
  area: {l: 83, t: 181, r: 339, b: 588}, yw: 42,
  x: [0, 3.1775, tx2, tx2L], y: [-0.25, 3.25, tyB1, tyB1L],
  datasets: serDs2.map(s => mk(xs2, s)),
  over: (ctx, X, Y, a) => {
    vlines(ctx, X, MK2, 32, b1Ends.map(Y), true, true);
    markLabels(ctx, X, MK2, 20, ALL8, 'TR2-1', X(MK2[7]) + 8);
    seqDraw(ctx, X, MK2, {lines: [{f: 5, t: 7, y: 47, dots: [5, 7]}, {f: 4, t: 5, y: 99, dots: [4, 5]}, {f: 1, t: 4, y: 134, dots: [1, 4]}],
      blocks: [{m: 5, bar: [53, 90], t: ['JA/JB^{ML}/JC↓', 'JD/JB^{U}'], ys: [62, 82]},
               {m: 4, bar: [104, 119], t: ['JA/JB /JCJD'], ys: [112]},
               {m: 1, bar: [140, 173], t: ['JA/JD↓', 'JB /JC'], ys: [148, 169]}]});
    orange(ctx, [['Sequence', 50], ['Curve', 232]], 75);
    legendDraw(ctx, serDs2, legPosB1, 11.5, 25);
    rich(ctx, '3.1775', 337, 573, 20, {align: 'right'});
    vtext(ctx, 'Δ~{D}_{S} (mm)', 28, 400, 24);
    rich(ctx, 'Strain ~{ε}_{n} (%)', 215, 633, 24, {align: 'center'});
    rich(ctx, '(b_{1})', 181, 652, 21, {align: 'center'});
  }
});

// ---------- (c1) ----------
makeChart('pc1', {
  area: {l: 33, t: 43, r: 242, b: 588}, yw: 30, rw: 36,
  x: [0, 3.1775, tx2, tx2L], y: [-2, 3, tyC1, tyC1L], y2: [0, 7, tyC1R, tyC1RL],
  datasets: [...thin(xs2, serDs2), ...thin(xs2, serDc2), stressDs(st2_x, st2_y)],
  under: (ctx, X, Y, a) => bands(ctx, a, X, [0, 0.3, 0.4, 0.65, 0.73, ...abc2, 3.1775],
    ['#e4f1f6', '#dfb8a8', '#e6f2f7', '#ebc9bd', '#eaf4f8', '#e0eff5', '#d6eaf3', '#cae3f2']),
  over: (ctx, X, Y, a) => {
    hline(ctx, a, Y(-1), '#000', 1.8);
    spans(ctx, X, Y, {v: abc2, top: 2.87, bot: [2.07, 2.32, 2.56],
      arr: [[0, 1.35, 2.07, '1.35', 1.08, 2.2], [1.35, 1.82, 2.32, '1.82', 1.59, 2.49], [1.82, 2.59, 2.58, '2.59', 2.35, 2.74]]});
    annArrows(ctx, X, Y, [[1.16, 0.57, 1.84, 0.91, 'Δ~{D}_{S}', 1.64, 0.62], [1.87, -0.29, 2.32, -0.67, 'Δ~{D}_{C}', 2.56, -0.49]]);
    jointLegend(ctx, 174, 209, 215, [306, 326, 346, 366]);
    rich(ctx, 'o', X(0) - 4, 20, 19, {align: 'center', italic: true});
    rich(ctx, 'TR2-1', X(0) + 4, 20, 18);
    rich(ctx, 'a', X(abc2[0]) + 2, 20, 19, {align: 'center', italic: true});
    rich(ctx, 'b', X(abc2[1]) + 4, 20, 19, {align: 'center', italic: true});
    rich(ctx, 'c', X(abc2[2]) + 11, 20, 19, {align: 'center', italic: true});
    vtext(ctx, 'Δ~{D}_{C} (mm)', 12, 195, 24);
    vtext(ctx, 'Δ~{D}_{S} (mm)', 12, 465, 24);
    vtext(ctx, 'Stress ~{σ}_{n} (MPa)', 282, 310, 24);
    rich(ctx, 'Strain ~{ε}_{n} (%)', 138, 633, 24, {align: 'center'});
    rich(ctx, '(c_{1})', 136, 652, 21, {align: 'center'});
  }
});
</script>
</body>
</html>
